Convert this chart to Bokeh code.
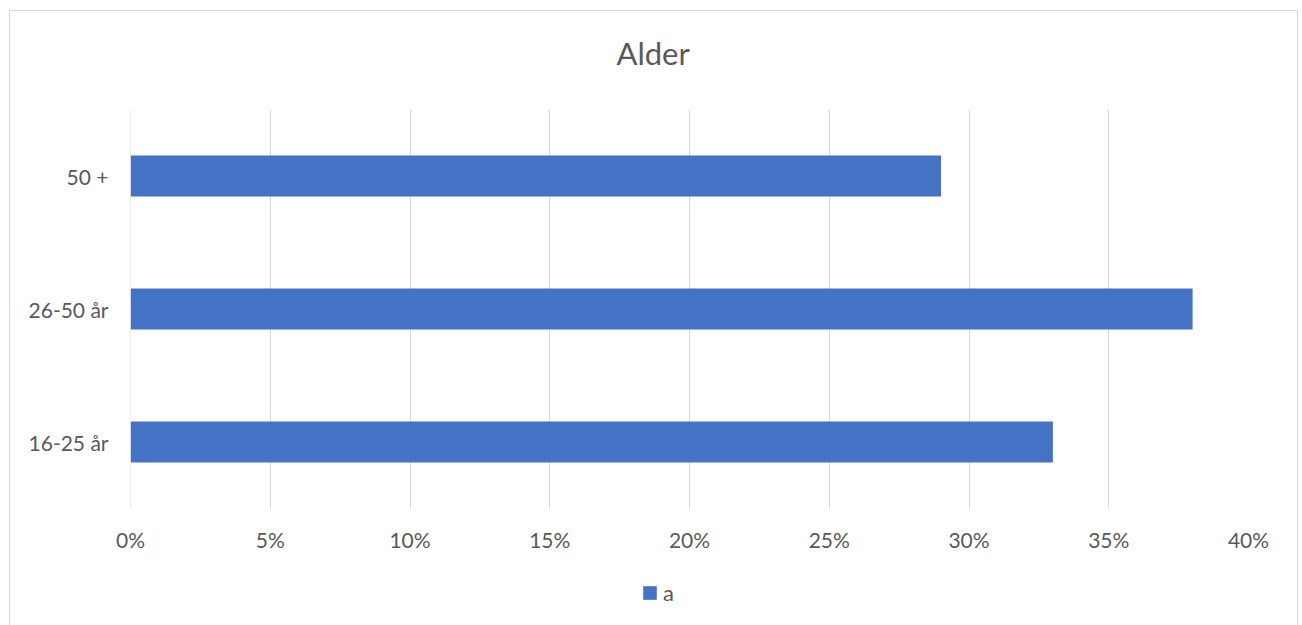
from bokeh.plotting import figure
from bokeh.layouts import column
from bokeh.models import (Range1d, FactorRange, FixedTicker, NumeralTickFormatter,
                          Legend, LegendItem, ColumnDataSource, Span, Title)
from bokeh.embed import file_html
from bokeh.resources import INLINE

# Age groups (bottom to top) and their shares
categories = ["16-25 år", "26-50 år", "50 +"]
shares = [0.33, 0.38, 0.29]
series_name = "a"
chart_title = "Alder"
x_ticks = [0.0, 0.05, 0.10, 0.15, 0.20, 0.25, 0.30, 0.35, 0.40]

FONT = "Lato"
TEXT = "#595959"
GRID = "#D9D9D9"
BAR = "#4472C4"

source = ColumnDataSource(dict(cat=categories, val=shares))

p = figure(
    width=1287, height=543,
    frame_width=1118, frame_height=399,
    y_range=FactorRange(factors=categories),
    x_range=Range1d(0, 0.40),
    output_backend="svg", toolbar_location=None,
    min_border_left=120, min_border_right=49,
    min_border_top=98, min_border_bottom=46,
    outline_line_color=None,
)

# chart title, centred over the whole chart box
p.title.text = chart_title
p.title.align = "left"
p.title.offset = 486
p.title.standoff = 0
p.title.text_font = FONT
p.title.text_font_size = "31px"
p.title.text_font_style = "normal"
p.title.text_color = TEXT

# gap between the title and the plot area
p.add_layout(Title(text=" ", text_font_size="1px", standoff=35), "above")

# gridline on the zero value, at the frame's left edge
p.add_layout(Span(location=0, dimension="height", line_color=GRID, line_width=1))

p.hbar(y="cat", right="val", left=0, height=0.31, source=source,
       fill_color=BAR, line_color=None)

# x axis: percent labels, no line or ticks
xa = p.xaxis[0]
xa.ticker = FixedTicker(ticks=x_ticks)
xa.formatter = NumeralTickFormatter(format="0%")
xa.axis_line_color = None
xa.major_tick_line_color = None
xa.major_tick_out = 0
xa.major_tick_in = 0
xa.minor_tick_line_color = None
xa.major_label_text_font = FONT
xa.major_label_text_font_size = "21px"
xa.major_label_text_color = TEXT
xa.major_label_standoff = 18

ya = p.yaxis[0]
ya.axis_line_color = None
ya.major_tick_line_color = None
ya.major_tick_out = 0
ya.major_tick_in = 0
ya.minor_tick_line_color = None
ya.major_label_text_font = FONT
ya.major_label_text_font_size = "21px"
ya.major_label_text_color = TEXT
ya.major_label_standoff = 22

p.xgrid.grid_line_color = GRID
p.xgrid.grid_line_width = 1
p.ygrid.grid_line_color = None

# legend strip under the chart (its frame lines up with the chart's frame)
lg = figure(width=1287, height=78, min_border=0,
            x_range=Range1d(0, 1), y_range=Range1d(0, 1),
            x_axis_type=None, y_axis_type=None,
            output_backend="svg", toolbar_location=None,
            outline_line_color=None)
lg.grid.visible = False
# hidden series renderer that supplies the legend swatch
key = lg.hbar(y="val", right="val", left=0, height=0.31, source=source,
              fill_color=BAR, line_color=None, visible=False)
legend = Legend(items=[LegendItem(label=series_name, renderers=[key])],
                location=(511, 26), orientation="horizontal",
                glyph_width=17, glyph_height=17, label_standoff=5,
                label_text_font=FONT, label_text_font_size="22px",
                label_text_color=TEXT, border_line_color=None,
                background_fill_alpha=0, inactive_fill_alpha=0,
                margin=0, padding=0)
lg.add_layout(legend)

chart = column(p, lg, spacing=0)
chart.margin = (10, 0, 0, 9)
chart.styles = {"border": f"1px solid {GRID}", "border-bottom": "none"}

open("out.html", "w").write(file_html(chart, INLINE))
